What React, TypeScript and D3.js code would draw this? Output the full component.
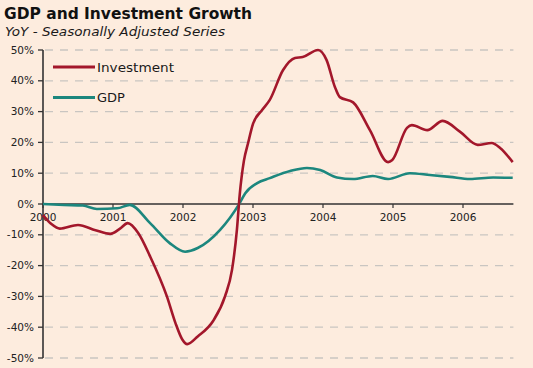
import React from 'react';
import * as d3 from 'd3';

// Investment growth, YoY % (decimal year, value)
const investDates = [
  2000.0, 2000.12, 2000.24, 2000.5, 2000.75, 2000.96, 2001.1, 2001.21, 2001.36, 2001.53,
  2001.77, 2001.89, 2001.99, 2002.06, 2002.21, 2002.43, 2002.6, 2002.7, 2002.77, 2002.81,
  2002.87, 2002.93, 2003.0, 2003.13, 2003.24, 2003.43, 2003.6, 2003.71, 2003.93, 2004.05,
  2004.17, 2004.24, 2004.43, 2004.67, 2004.93, 2004.99, 2005.2, 2005.27, 2005.49, 2005.71,
  2005.96, 2006.21, 2006.41, 2006.53, 2006.71,
];
const investValues = [
  -3.6, -6.5, -8.0, -6.8, -8.5, -9.7, -8.0, -6.2, -9.4, -17,
  -30, -38.5, -44, -45.5, -43, -38, -30, -21.4, -8.4, 3,
  14, 19.8, 26, 30.5, 33.8, 43.5, 47.4, 47.7, 50, 46.8,
  38, 34.7, 33, 24, 13.6, 14.3, 24.7, 25.6, 24, 27,
  23.4, 19.2, 19.8, 18.2, 13.6,
];

// GDP growth, YoY %
const gdpDates = [
  2000.0, 2000.3, 2000.57, 2000.77, 2001.06, 2001.24, 2001.53, 2001.81, 2002.03, 2002.21,
  2002.53, 2002.81, 2002.89, 2003.06, 2003.24, 2003.53, 2003.77, 2003.96, 2004.2, 2004.43,
  2004.71, 2004.93, 2005.24, 2005.53, 2005.81, 2006.1, 2006.43, 2006.71,
];
const gdpValues = [
  0, -0.3, -0.5, -1.6, -1.4, -0.3, -6.2, -12.7, -15.5, -14.3,
  -8.4, 0.3, 3.5, 6.8, 8.4, 10.7, 11.7, 11, 8.6, 8.1,
  9.1, 8.1, 10, 9.4, 8.8, 8.1, 8.6, 8.5,
];

const yearTicks = [2000, 2001, 2002, 2003, 2004, 2005, 2006];
const pctTicks = [50, 40, 30, 20, 10, 0, -10, -20, -30, -40, -50];

const W = 533;
const H = 368;
const BG = '#FDECDE';
const RED = '#A3172B';
const TEAL = '#1C877E';
const FONT = '"DejaVu Sans", Verdana, sans-serif';

export default function App() {
  const x = d3.scaleLinear().domain([2000, 2007]).range([43, 533]);
  const y = d3.scaleLinear().domain([-50, 50]).range([358, 50]);
  const xEnd = x(2006.72);

  const line = d3
    .line<[number, number]>()
    .x((d) => x(d[0]))
    .y((d) => y(d[1]))
    .curve(d3.curveMonotoneX);

  const investPath = line(investDates.map((d, i) => [d, investValues[i]]) as [number, number][]);
  const gdpPath = line(gdpDates.map((d, i) => [d, gdpValues[i]]) as [number, number][]);

  return (
    <svg
      width={W}
      height={H}
      style={{ position: 'absolute', left: 0, top: 0, display: 'block' }}
      fontFamily={FONT}
    >
      <rect width={W} height={H} fill={BG} />

      <text x={4} y={19} fontSize={15} fontWeight="bold" fill="#111" textLength={248} lengthAdjust="spacingAndGlyphs">
        GDP and Investment Growth
      </text>
      <text x={5} y={36} fontSize={12} fontStyle="italic" fill="#1a1a1a" textLength={220} lengthAdjust="spacingAndGlyphs">
        YoY - Seasonally Adjusted Series
      </text>

      {/* grid */}
      {pctTicks
        .filter((t) => t !== 0)
        .map((t) => (
          <line
            key={'g' + t}
            x1={x(2000) + 2}
            x2={xEnd}
            y1={y(t)}
            y2={y(t)}
            stroke="#c9c5c1"
            strokeWidth={1.3}
            strokeDasharray="8,7"
          />
        ))}

      {/* y axis */}
      <line x1={x(2000)} x2={x(2000)} y1={y(50)} y2={y(-50)} stroke="#333" strokeWidth={1.6} />
      {pctTicks.map((t) => (
        <g key={'y' + t}>
          <line x1={x(2000) - 5} x2={x(2000)} y1={y(t)} y2={y(t)} stroke="#333" strokeWidth={1.3} />
          <text
            x={x(2000) - 9}
            y={y(t)}
            dy="0.35em"
            textAnchor="end"
            fontSize={10.5}
            fill="#222"
          >
            {t + '%'}
          </text>
        </g>
      ))}

      {/* x axis */}
      <line x1={x(2000)} x2={xEnd} y1={y(0)} y2={y(0)} stroke="#333" strokeWidth={1.3} />
      {yearTicks.map((t) => (
        <g key={'x' + t}>
          <line x1={x(t)} x2={x(t)} y1={y(0)} y2={y(0) + 4} stroke="#333" strokeWidth={1.2} />
          <text x={x(t)} y={y(0) + 17} textAnchor="middle" fontSize={10.5} fill="#222">
            {t}
          </text>
        </g>
      ))}

      <path d={gdpPath || ''} fill="none" stroke={TEAL} strokeWidth={2.6} strokeLinejoin="round" />
      <path d={investPath || ''} fill="none" stroke={RED} strokeWidth={2.6} strokeLinejoin="round" />

      {/* legend */}
      <line x1={53} x2={95} y1={67} y2={67} stroke={RED} strokeWidth={3.2} />
      <text x={97} y={67} dy="0.35em" fontSize={13} fill="#1a1a1a" textLength={77} lengthAdjust="spacingAndGlyphs">
        Investment
      </text>
      <line x1={53} x2={95} y1={97.5} y2={97.5} stroke={TEAL} strokeWidth={3.2} />
      <text x={97} y={97.5} dy="0.35em" fontSize={13} fill="#1a1a1a">
        GDP
      </text>
    </svg>
  );
}
